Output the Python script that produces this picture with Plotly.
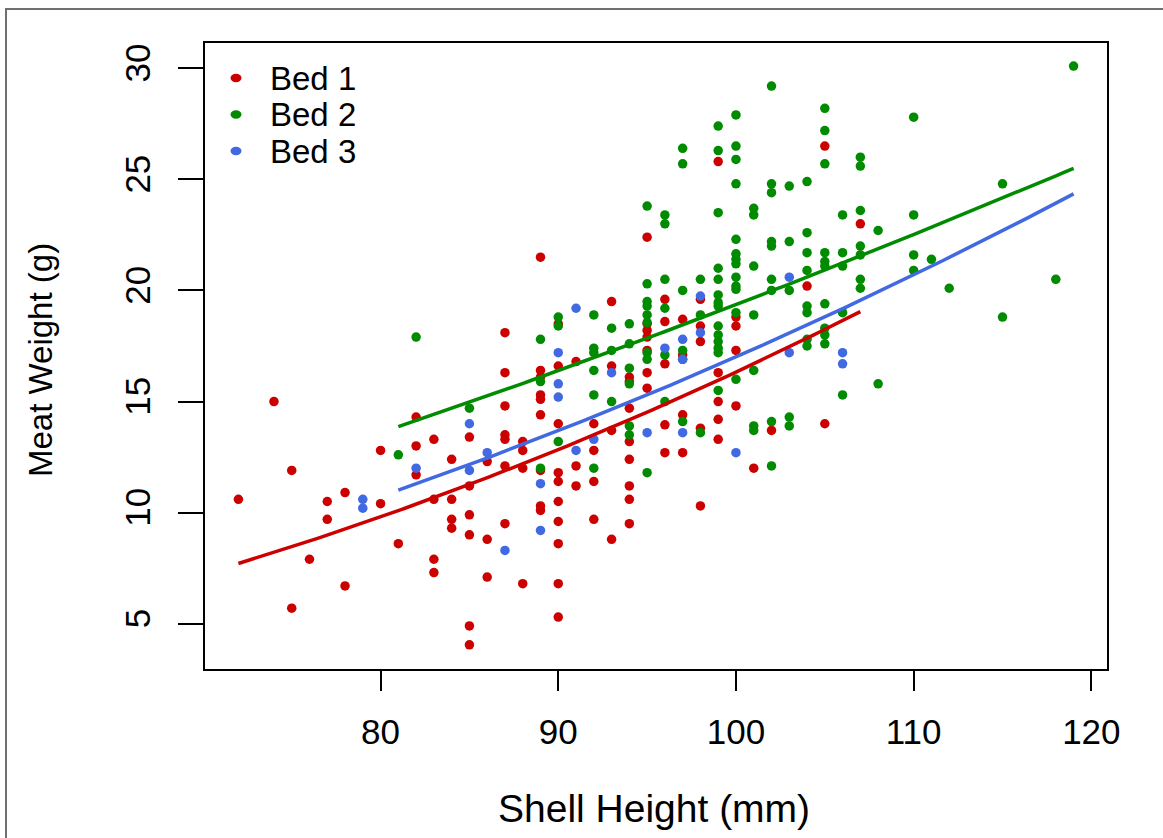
import numpy as np
import plotly.graph_objects as go

# Shell height (mm) and meat weight (g) for each bed
bed1_height = [72, 74, 75, 75, 76, 77, 77, 78, 78, 80, 80, 81, 82, 82, 82,
               83, 83, 83, 83, 84, 84, 84, 84, 85, 85, 85, 85, 85, 85,
               86, 86, 86, 87, 87, 87, 87, 87, 87, 87, 88, 88, 88, 88,
               89, 89, 89, 89, 89, 89, 89, 89, 89,
               90, 90, 90, 90, 90, 90, 90, 90, 90, 90, 91, 91, 91,
               92, 92, 92, 92, 93, 93, 93, 93,
               94, 94, 94, 94, 94, 94, 94, 94,
               95, 95, 95, 95, 95, 95, 95, 96, 96, 96, 96, 96,
               97, 97, 97, 97, 98, 98, 98, 98, 98, 99, 99, 99, 99, 99,
               100, 100, 100, 100, 101, 102, 104, 105, 105, 107]
bed1_weight = [10.6, 15.0, 11.9, 5.7, 7.9, 10.5, 9.7, 10.9, 6.7, 12.8, 10.4, 8.6, 14.3, 13.0, 11.7,
               13.3, 10.6, 7.9, 7.3, 12.4, 10.6, 9.7, 9.3, 13.4, 11.2, 9.9, 9.0, 4.9, 4.05,
               12.3, 8.8, 7.1, 18.1, 16.3, 14.8, 13.5, 13.3, 12.1, 9.5, 13.2, 12.8, 12.0, 6.8,
               21.5, 16.4, 16.1, 15.3, 15.1, 14.4, 11.9, 10.3, 10.1,
               18.5, 16.6, 14.0, 11.8, 11.4, 10.5, 9.6, 8.6, 6.8, 5.3, 16.8, 12.1, 11.2,
               14.0, 12.8, 11.4, 9.7, 19.5, 16.6, 13.7, 8.8,
               16.1, 15.9, 14.7, 13.2, 12.4, 11.2, 10.6, 9.5,
               22.4, 18.5, 18.2, 17.9, 17.3, 16.3, 15.6, 19.6, 18.6, 16.7, 13.95, 12.7,
               18.7, 17.1, 14.4, 12.7, 19.6, 18.4, 17.7, 13.8, 10.3, 25.8, 16.3, 15.0, 14.2, 13.3,
               18.8, 18.4, 17.3, 14.8, 12.0, 13.7, 20.2, 26.5, 14.0, 23.0]

bed2_height = [81, 82, 85, 89, 89, 89, 90, 90, 90,
               92, 92, 92, 92, 92, 92, 93, 93, 93,
               94, 94, 94, 94, 94, 94,
               95, 95, 95, 95, 95, 95, 95, 95, 95,
               96, 96, 96, 96, 96, 96, 97, 97, 97, 97, 97, 97, 98, 98, 98,
               99, 99, 99, 99, 99, 99, 99, 99, 99, 99, 99, 99, 99, 99,
               100, 100, 100, 100, 100, 100, 100, 100, 100, 100, 100, 100, 100,
               101, 101, 101, 101, 101, 101, 101,
               102, 102, 102, 102, 102, 102, 102, 102, 102,
               103, 103, 103, 103, 103,
               104, 104, 104, 104, 104, 104, 104, 104,
               105, 105, 105, 105, 105, 105, 105, 105, 105, 105,
               106, 106, 106, 106, 106, 107, 107, 107, 107, 107, 107, 107,
               108, 108, 110, 110, 110, 110, 111, 112, 115, 115, 118, 119]
bed2_weight = [12.6, 17.9, 14.7, 17.8, 15.9, 12.0, 18.8, 18.4, 13.2,
               18.9, 17.4, 17.2, 16.4, 15.3, 12.0, 18.3, 17.3, 15.0,
               18.5, 17.6, 16.5, 15.8, 13.9, 13.5,
               23.8, 20.3, 19.5, 19.3, 18.9, 18.55, 17.2, 16.9, 11.8,
               23.4, 23.0, 20.5, 19.2, 17.1, 15.0, 26.4, 25.7, 20.0, 17.3, 16.9, 14.1, 20.5, 18.9, 13.6,
               27.4, 26.3, 23.5, 21.0, 20.5, 19.8, 19.45, 19.3, 18.4, 18.0, 17.7, 17.4, 17.2, 15.5,
               27.9, 26.5, 25.9, 24.8, 22.3, 21.65, 21.4, 21.2, 20.6, 20.2, 20.05, 19.0, 16.0,
               23.7, 23.4, 21.1, 18.9, 16.4, 13.9, 13.7,
               29.2, 24.8, 24.4, 22.2, 22.0, 20.5, 20.0, 14.1, 12.1,
               24.7, 22.2, 20.0, 14.3, 13.9,
               24.9, 22.6, 21.7, 20.9, 19.3, 19.0, 17.8, 17.5,
               28.2, 27.2, 25.7, 21.7, 21.3, 21.1, 19.4, 18.3, 18.0, 17.6,
               23.4, 21.7, 21.1, 19.0, 15.3, 26.0, 25.6, 23.6, 22.0, 21.6, 20.5, 20.1,
               22.7, 15.8, 27.8, 23.4, 21.6, 20.9, 21.4, 20.1, 24.8, 18.8, 20.5, 30.1]

bed3_height = [79, 79, 82, 85, 85, 86, 87, 89, 89, 90, 90, 90, 91, 91, 92, 93,
               95, 96, 97, 97, 97, 98, 98, 100, 103, 103, 106, 106]
bed3_weight = [10.6, 10.2, 12.0, 14.0, 11.9, 12.7, 8.3, 11.3, 9.2, 17.2, 15.8, 15.2, 19.2, 12.8, 13.3, 16.3,
               13.6, 17.4, 17.8, 16.9, 13.6, 19.75, 18.1, 12.7, 20.6, 17.2, 17.2, 16.7]

# Fitted allometric curves: log(weight) = a + b * log(height)
bed_names = ["Bed 1", "Bed 2", "Bed 3"]
bed_colors = ["#CD0000", "#008B00", "#4169E1"]
fit_intercept = [-7.721, -4.3267, -6.6669]
fit_slope = [2.283, 1.583, 2.063]
fit_xmin = [72, 81, 81]
fit_xmax = [107, 119, 119]

# Axis ticks
x_ticks = [80, 90, 100, 110, 120]
y_ticks = [5, 10, 15, 20, 25, 30]

heights = [bed1_height, bed2_height, bed3_height]
weights = [bed1_weight, bed2_weight, bed3_weight]

fig = go.Figure()

for name, color, hx, wy in zip(bed_names, bed_colors, heights, weights):
    fig.add_trace(go.Scatter(
        x=hx, y=wy, mode="markers", name=name,
        marker=dict(color=color, size=9.5, line=dict(width=0)),
        showlegend=False,
    ))

for i, color in enumerate(bed_colors):
    xs = np.linspace(fit_xmin[i], fit_xmax[i], 120)
    ys = np.exp(fit_intercept[i] + fit_slope[i] * np.log(xs))
    fig.add_trace(go.Scatter(
        x=xs, y=ys, mode="lines", line=dict(color=color, width=3.5),
        showlegend=False, hoverinfo="skip",
    ))

W, H = 1163, 838
ml, mr, mt, mb = 205, 56, 43, 169
pw, ph = W - ml - mr, H - mt - mb


def px_to_paper(px, py):
    return (px - ml) / pw, 1 - (py - mt) / ph


font_family = "Liberation Sans, Arial, sans-serif"

shapes = []
annotations = []

# Outer border of the figure
bx0, by0 = px_to_paper(6, 9)
bx1, by1 = px_to_paper(1175, 850)
shapes.append(dict(type="rect", xref="paper", yref="paper", x0=bx0, y0=by1, x1=bx1, y1=by0,
                   line=dict(color="#707070", width=2), fillcolor="rgba(0,0,0,0)", layer="below"))

# Legend without a box
for i, (name, color) in enumerate(zip(bed_names, bed_colors)):
    cy = 78 + i * 36.5
    mx, my = px_to_paper(236, cy)
    shapes.append(dict(type="circle", xref="paper", yref="paper", xsizemode="pixel", ysizemode="pixel",
                       xanchor=mx, yanchor=my, x0=-5.5, x1=5.5, y0=-4.2, y1=4.2,
                       fillcolor=color, line=dict(width=0)))
    tx, ty = px_to_paper(268, cy)
    annotations.append(dict(text=name, xref="paper", yref="paper", x=tx, y=ty, xanchor="left",
                            yanchor="middle", showarrow=False,
                            font=dict(size=33, color="black", family=font_family)))

# Axis titles
tx, ty = px_to_paper(654, 808)
annotations.append(dict(text="Shell Height (mm)", xref="paper", yref="paper", x=tx, y=ty,
                        xanchor="center", yanchor="middle", showarrow=False,
                        font=dict(size=39, color="black", family=font_family)))
tx, ty = px_to_paper(40, 360)
annotations.append(dict(text="Meat Weight (g)", xref="paper", yref="paper", x=tx, y=ty,
                        xanchor="center", yanchor="middle", showarrow=False, textangle=-90,
                        font=dict(size=33, color="black", family=font_family)))

axis_common = dict(showgrid=False, zeroline=False, showline=True, mirror=True,
                   linecolor="black", linewidth=2, ticks="outside", tickwidth=2,
                   tickcolor="black", tickfont=dict(size=35, color="black", family=font_family))

fig.update_layout(
    width=W, height=H,
    margin=dict(l=ml, r=mr, t=mt, b=mb, pad=0),
    paper_bgcolor="white", plot_bgcolor="white",
    xaxis=dict(range=[70.12, 120.88], tickvals=x_ticks, ticklen=20, ticklabelstandoff=11, **axis_common),
    yaxis=dict(range=[2.96, 31.14], tickvals=y_ticks, ticklen=25, tickangle=-90,
               ticklabelstandoff=14, **axis_common),
    shapes=shapes,
    annotations=annotations,
    showlegend=False,
)

fig.write_html("out.html")
